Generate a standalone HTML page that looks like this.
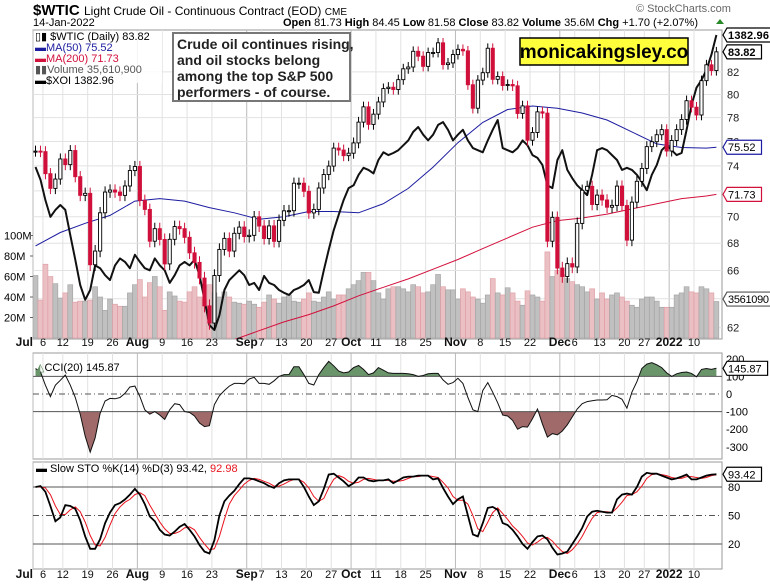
<!DOCTYPE html>
<html><head><meta charset="utf-8">
<style>
html,body{margin:0;padding:0;background:#fff;}
svg{display:block;font-family:"Liberation Sans",Arial,sans-serif;}
</style></head>
<body>
<svg id="chart" width="770" height="585" viewBox="0 0 770 585" xmlns="http://www.w3.org/2000/svg">
  <text x="33" y="15" font-size="15" font-weight="bold">$WTIC</text>
  <text x="84" y="15" font-size="12">Light Crude Oil - Continuous Contract (EOD) <tspan font-size="10">CME</tspan></text>
  <text x="33" y="26" font-size="11">14-Jan-2022</text>
  <text x="636" y="12" font-size="11" fill="#666">© StockCharts.com</text>
  <text x="283" y="26" font-size="11"><tspan font-weight="bold">Open</tspan> 81.73  <tspan font-weight="bold">High</tspan> 84.45  <tspan font-weight="bold">Low</tspan> 81.58  <tspan font-weight="bold">Close</tspan> 83.82  <tspan font-weight="bold">Volume</tspan> 35.6M  <tspan font-weight="bold">Chg</tspan> +1.70 (+2.07%)</text>
  <polygon points="716,24 724,24 720,19" fill="#2a8a2a"/>
  <g id="main"></g>
  <g id="cci"></g>
  <g id="sto"></g>
  <g id="axes"></g>
</svg>
<script>
// ---------- data ----------
const closes=[75.2,75.16,73.37,72.2,72.94,74.56,74.1,75.25,73.13,71.65,71.81,66.42,67.42,70.3,71.91,72.07,71.91,71.65,72.39,73.62,73.95,
71.26,70.56,68.15,69.09,68.28,66.48,68.29,69.25,69.09,68.44,67.29,66.59,65.46,63.5,62.32,65.64,67.54,68.36,67.42,68.74,69.21,68.5,
68.59,69.99,69.29,68.35,69.3,68.14,69.72,70.45,70.46,72.61,72.61,71.97,70.29,70.56,72.23,73.3,73.98,75.45,75.29,74.83,75.03,
75.88,77.62,78.93,77.43,78.3,79.35,80.52,80.64,80.44,81.31,82.28,82.44,83.87,83.42,82.5,83.76,83.76,84.65,82.66,82.81,83.57,
84.05,83.91,80.86,78.81,81.27,81.93,84.15,81.34,81.59,80.79,80.88,80.76,78.36,79.01,76.1,76.75,78.5,78.39,68.15,69.95,66.18,
65.57,66.5,66.26,69.49,72.05,72.36,70.94,71.67,71.29,70.73,70.87,72.38,70.86,68.23,71.12,72.76,73.79,75.57,75.98,76.56,76.99,75.21,
76.08,76.99,77.85,79.46,78.9,78.23,81.22,82.64,82.12,83.82];
const xoi=[1195,1177,1148,1124,1134,1141,1134,1098,1063,1027,1006,1020,1055,1051,1041,1034,1055,1065,1060,1051,
1070,1060,1051,1048,1065,1055,1048,1030,1041,1055,1060,1055,1063,1041,1006,970,963,984,1020,1034,
1041,1048,1041,1027,1030,1020,1040,1030,1027,1020,1016,1013,1020,1023,1027,1034,1017,1016,1048,1077,
1105,1127,1148,1165,1169,1184,1194,1191,1186,1205,1216,1212,1215,1219,1226,1233,1245,1252,1241,1233,
1241,1255,1259,1248,1233,1241,1248,1233,1222,1219,1216,1233,1248,1262,1222,1219,1216,1222,1233,1226,
1212,1208,1198,1169,1165,1205,1219,1191,1179,1169,1162,1155,1184,1219,1222,1219,1212,1205,1191,1194,
1191,1184,1174,1162,1184,1198,1219,1226,1219,1212,1215,1248,1283,1308,1319,1333,1355,1383];
const vols=[61,37,72,60,53,39,44,52,35,36,36,37,50,40,27,38,33,31,31,44,52,
57,40,54,60,50,27,45,41,36,35,45,50,40,38,52,44,40,45,40,35,34,33,
36,33,30,35,42,38,34,40,42,36,35,38,44,36,35,40,45,38,42,42,48,
52,56,64,64,56,44,38,48,50,50,48,45,52,50,44,45,52,62,50,47,47,
38,48,45,40,38,34,42,58,44,42,49,44,36,32,46,42,40,36,84,60,66,
62,58,55,52,50,45,48,38,44,38,42,44,40,36,32,30,38,40,40,36,30,30,
30,42,44,50,45,44,50,48,44,35.6];
const ma50=[67.8,68.8,69.5,70.1,71.2,71.4,71.2,70.7,70.3,69.8,70.0,70.4,70.4,70.3,71.0,72.2,73.9,75.9,77.6,78.7,79.0,78.8,78.4,77.8,76.8,75.8,75.5,75.45,75.52];
const ma200=[57.0,57.5,58.0,58.5,59.0,59.5,60.0,60.6,61.2,61.8,62.4,62.9,63.5,64.2,64.8,65.4,66.1,66.8,67.6,68.4,69.2,69.7,69.9,70.2,70.6,71.0,71.4,71.6,71.73];
const cci=[145,125,50,-15,50,78,108,50,-20,-115,-240,-330,-250,-110,-40,-25,-27,-20,4,40,
45,-15,-90,-115,-100,-120,-145,-90,-55,-60,-100,-105,-125,-165,-185,-180,-60,-10,20,45,
60,60,58,85,95,60,60,55,75,100,110,111,155,155,110,60,51,110,150,185,
160,130,120,125,150,162,140,110,120,150,135,120,117,117,117,115,110,100,105,115,
117,117,80,55,65,89,60,-20,-90,-100,20,65,10,-50,-120,-125,-150,-200,-185,-188,
-140,-85,-170,-245,-225,-232,-210,-175,-130,-85,-55,-43,-38,-34,-34,-33,-8,-15,-30,-80,
10,70,145,170,178,166,150,120,100,115,122,125,117,98,140,145,140,145.87];
const stoK=[80,81,75,60,44,48,61,60,57,45,28,15,15,25,42,53,61,63,67,72,78,72,62,49,44,35,30,29,33,38,
41,35,28,19,12,10,24,50,65,71,76,83,89,89,88,86,84,81,79,84,87,88,88,88,80,70,61,65,78,93,
94,90,86,81,84,90,90,87,86,87,87,88,84,87,90,91,91,92,92,92,88,89,79,70,62,67,70,50,30,28,
42,58,59,56,42,40,35,28,20,15,22,28,29,25,16,9,10,12,20,28,37,49,54,55,54,53,53,67,72,73,
72,80,91,95,94,94,92,90,88,89,91,93,88,88,90,92,93,93.42];
const stoD=[80,80,79,72,60,51,51,56,59,54,43,29,19,18,27,40,52,59,64,67,72,74,71,61,52,43,36,31,31,33,
37,38,35,27,20,14,15,28,46,62,71,77,83,87,89,88,86,84,81,81,83,86,88,88,85,79,70,65,68,79,
88,92,90,86,84,85,88,89,88,87,87,87,86,86,87,89,91,91,92,92,91,90,85,79,70,66,66,62,50,36,
33,43,53,58,52,46,39,34,28,21,19,22,26,27,23,17,12,10,14,20,28,38,47,53,54,54,53,58,64,71,
72,75,81,89,93,94,93,92,90,89,89,91,91,90,89,90,92,92.98];
const priceTicks=[62,64,66,68,70,72,74,76,78,80,82];
const volTicks=[20,40,60,80,100];
const cciTicks=[200,100,0,-100,-200,-300];
const stoTicks=[80,50,20];
const dateTickIdx=[0,2,6,11,16,21,26,31,36,43,46,50,55,60,64,69,74,79,85,90,95,100,106,109,114,119,123,128,133];
const dateTickLabels=["Jul","6","12","19","26","Aug","9","16","23","Sep","7","13","20","27","Oct","11","18","25","Nov","8","15","22","Dec","6","13","20","27","2022","10"];
const monthLabels=["Jul","Aug","Sep","Oct","Nov","Dec","2022"];

// ---------- scales ----------
const NS="http://www.w3.org/2000/svg";
const L=33,R=722,MT=30,MB=339,CT=353,CB=459,ST=462,SB=569;
const xOf=i=>35.5+i*4.97;
const yP=p=>216.7-915*Math.log(p/70);
const yX=v=>35+(1383-v)*295/420;
const yV=v=>338-v*1.025;
const yC=v=>394-v*0.176;
const yS=v=>544-(v-20)*0.95;
function el(tag,attrs,parent,text){const e=document.createElementNS(NS,tag);for(const k in attrs)e.setAttribute(k,attrs[k]);if(text!==undefined)e.textContent=text;parent.appendChild(e);return e;}
const main=document.getElementById('main'),cciG=document.getElementById('cci'),stoG=document.getElementById('sto'),axes=document.getElementById('axes');
const svg=document.getElementById('chart');
const defs=el('defs',{},svg);
const cpM=el('clipPath',{id:'clipMain'},defs);el('rect',{x:L,y:MT,width:R-L,height:MB-MT},cpM);
const cpHi=el('clipPath',{id:'clipHi'},defs);el('rect',{x:L,y:CT,width:R-L,height:yC(100)-CT},cpHi);
const cpLo=el('clipPath',{id:'clipLo'},defs);el('rect',{x:L,y:yC(-100),width:R-L,height:CB-yC(-100)},cpLo);

// ---------- panels / grids ----------
[[MT,MB],[CT,CB],[ST,SB]].forEach(([t,b],pi)=>{
  const bg=el('rect',{x:L,y:t,width:R-L,height:b-t,fill:'#fff',stroke:'#999','stroke-width':1},pi==0?main:pi==1?cciG:stoG);
  
  
  dateTickIdx.forEach((idx,k)=>{
    const ln=el('line',{x1:xOf(idx)-2.5,x2:xOf(idx)-2.5,y1:t,y2:b,stroke:monthLabels.includes(dateTickLabels[k])?'#bbb':'#e2e2e2','stroke-width':1},pi==0?main:pi==1?cciG:stoG);
    
    
  });
});
priceTicks.forEach(p=>{
  const g=el('line',{x1:L,x2:R,y1:yP(p),y2:yP(p),stroke:'#e2e2e2'},main);
  
  
  const t=el('text',{x:R+5,y:yP(p)+4,'font-size':11,fill:'#222'},axes,String(p));
  
  
});
volTicks.forEach(v=>{
  const t=el('text',{x:4,y:yV(v)+4,'font-size':11},axes,v+'M');
  
  
  const tk=el('line',{x1:L-3,x2:L,y1:yV(v),y2:yV(v),stroke:'#666'},axes);
  
  
});

// ---------- main panel content ----------
const mc=el('g',{'clip-path':'url(#clipMain)'},main);


vols.forEach((v,i)=>{
  const down=i>0&&closes[i]<closes[i-1];
  const r=el('rect',{x:xOf(i)-2.5,y:yV(v),width:4.97,height:338-yV(v),fill:down?'#ebc0c4':'#c0c0c0',stroke:down?'#dc9aa0':'#a0a0a0','stroke-width':0.6},mc);
  
  
});
function polyIdx(arr,step,yf,color,w,name,parent){
  const pts=arr.map((v,k)=>{const i=(k===arr.length-1)?closes.length-1:k*step;return xOf(i).toFixed(1)+','+yf(v).toFixed(1);}).join(' ');
  const p=el('polyline',{points:pts,fill:'none',stroke:color,'stroke-width':w},parent);
  
  
}
polyIdx(ma200,5,yP,'#d2103c',1,'ma200-line',mc);
polyIdx(ma50,5,yP,'#1c1ca0',1,'ma50-line',mc);
const xl=el('polyline',{points:xoi.map((v,i)=>xOf(i).toFixed(1)+','+yX(v).toFixed(1)).join(' '),fill:'none',stroke:'#111','stroke-width':2,'stroke-linejoin':'round'},mc);


closes.forEach((c,i)=>{
  const o=i>0?closes[i-1]:c;
  const up=c>=o;
  const col=up?'#000':'#d0103a';
  const top=Math.max(o,c)+0.45,bot=Math.min(o,c)-0.45;
  const w=el('line',{x1:xOf(i),x2:xOf(i),y1:yP(top),y2:yP(bot),stroke:col,'stroke-width':1},mc);
  
  
  const y1=yP(Math.max(o,c)),y2=yP(Math.min(o,c));
  const b=el('rect',{x:xOf(i)-1.6,y:y1,width:3.2,height:Math.max(1,y2-y1),fill:up?'#fff':'#d0103a',stroke:col,'stroke-width':0.9},mc);
  
  
});

// ---------- tags ----------
function tag(y,txt,color,bold,name){
  const g=el('g',{},axes);
  
  
  const w=Math.min(44,txt.length*6.1+4);
  el('polygon',{points:`${R+1},${y} ${R+5},${y-7} ${R+5+w},${y-7} ${R+5+w},${y+7} ${R+5},${y+7}`,fill:'#fff',stroke:color,'stroke-width':1.2},g);
  el('text',{x:R+6,y:y+4,'font-size':11,'font-weight':bold?'bold':'normal',fill:'#000','textLength':txt.length>6?w-3:null},g,txt);
}
tag(yX(1383),'1382.96','#000',true,'xoi-value-tag');
tag(yP(83.82),'83.82','#000',true,'price-value-tag');
tag(yP(75.52),'75.52','#1c1ca0',false,'ma50-value-tag');
tag(yP(71.73),'71.73','#d2103c',false,'ma200-value-tag');
tag(yV(38),'3561090','#555',false,'volume-value-tag');
axes.querySelectorAll('text[textLength="null"]').forEach(t=>t.removeAttribute('textLength'));

// ---------- CCI ----------
cciTicks.forEach(v=>{
  const t=el('text',{x:R+4,y:yC(v)+4,'font-size':11},axes,String(v));
  
  
});
const cciPts=cci.map((v,i)=>xOf(i).toFixed(1)+','+yC(v).toFixed(1));
const hiA=el('polygon',{points:xOf(0)+','+yC(100)+' '+cciPts.join(' ')+' '+xOf(cci.length-1)+','+yC(100),fill:'#6a946a',stroke:'none','clip-path':'url(#clipHi)'},cciG);


const loA=el('polygon',{points:xOf(0)+','+yC(-100)+' '+cciPts.join(' ')+' '+xOf(cci.length-1)+','+yC(-100),fill:'#a06a6a',stroke:'none','clip-path':'url(#clipLo)'},cciG);


[[100,''],[-100,''],[0,'6,3,1,3']].forEach(([v,d])=>{
  const ln=el('line',{x1:L,x2:R,y1:yC(v),y2:yC(v),stroke:'#555','stroke-width':1,'stroke-dasharray':d},cciG);
  
  
});
const cl=el('polyline',{points:cciPts.join(' '),fill:'none',stroke:'#111','stroke-width':1},cciG);


tag(yC(145.87),'145.87','#000',false,'cci-value-tag');

// ---------- STO ----------
stoTicks.forEach(v=>{
  const t=el('text',{x:R+6,y:yS(v)+4,'font-size':11},axes,String(v));
  
  
});
[[80,''],[20,''],[50,'6,3,1,3']].forEach(([v,d])=>{
  const ln=el('line',{x1:L,x2:R,y1:yS(v),y2:yS(v),stroke:'#555','stroke-width':1,'stroke-dasharray':d},stoG);
  
  
});
const dl=el('polyline',{points:stoD.map((v,i)=>xOf(i).toFixed(1)+','+yS(v).toFixed(1)).join(' '),fill:'none',stroke:'#e8141e','stroke-width':1},stoG);


const kl=el('polyline',{points:stoK.map((v,i)=>xOf(i).toFixed(1)+','+yS(v).toFixed(1)).join(' '),fill:'none',stroke:'#000','stroke-width':1.8},stoG);


tag(yS(93.42),'93.42','#000',false,'sto-value-tag');

// ---------- date axes ----------
[346,578].forEach(yy=>{
  dateTickIdx.forEach((idx,k)=>{
    const lab=dateTickLabels[k];
    const isM=monthLabels.includes(lab);
    let x=xOf(idx)-2.5;
    if(lab==='Jul')x=33;
    if(lab==='6'&&k===1)x=43;
    const t=el('text',{x:x,y:yy,'font-size':isM?12:11,'font-weight':isM?'bold':'normal','text-anchor':lab==='Jul'?'end':'middle',fill:'#111'},axes,lab);
    
    
  });
});
</script>

<!-- legends and annotations (static) -->
<svg style="position:absolute;left:0;top:0" width="770" height="585">
  <g font-family="Liberation Sans, sans-serif" font-size="11">
    <rect x="34" y="31" width="128" height="52" fill="#fff" opacity="0.85"/>
    <text x="35" y="40">▯▮ $WTIC (Daily) 83.82</text>
    <text x="35" y="51" fill="#1c1ca0">▬MA(50) 75.52</text>
    <text x="35" y="62" fill="#d2103c">▬MA(200) 71.73</text>
    <text x="35" y="73" fill="#555">▮▮Volume 35,610,900</text>
    <text x="35" y="84">▬$XOI 1382.96</text>
  </g>
  <g font-family="Liberation Sans, sans-serif" font-size="14" font-weight="bold" fill="#222">
    <rect x="173" y="33" width="177" height="68" fill="#fff" stroke="#777" stroke-width="2"/>
    <text x="177" y="49">Crude oil continues rising,</text>
    <text x="177" y="65">and oil stocks belong</text>
    <text x="177" y="81">among the top S&amp;P 500</text>
    <text x="177" y="97">performers - of course.</text>
  </g>
  <g font-family="Liberation Sans, sans-serif">
    <rect x="520" y="38" width="168" height="27" fill="#ffff3c" stroke="#000" stroke-width="1.5"/>
    <text x="604" y="58" font-size="19" font-weight="bold" text-anchor="middle">monicakingsley.co</text>
  </g>
  <text x="36" y="371" font-family="Liberation Sans, sans-serif" font-size="11"><tspan fill="#6a946a">◭</tspan>CCI(20) 145.87</text>
  <text x="36" y="472" font-family="Liberation Sans, sans-serif" font-size="11">▬ Slow STO %K(14) %D(3) 93.42, <tspan fill="#e8141e">92.98</tspan></text>
</svg>
</body></html>
